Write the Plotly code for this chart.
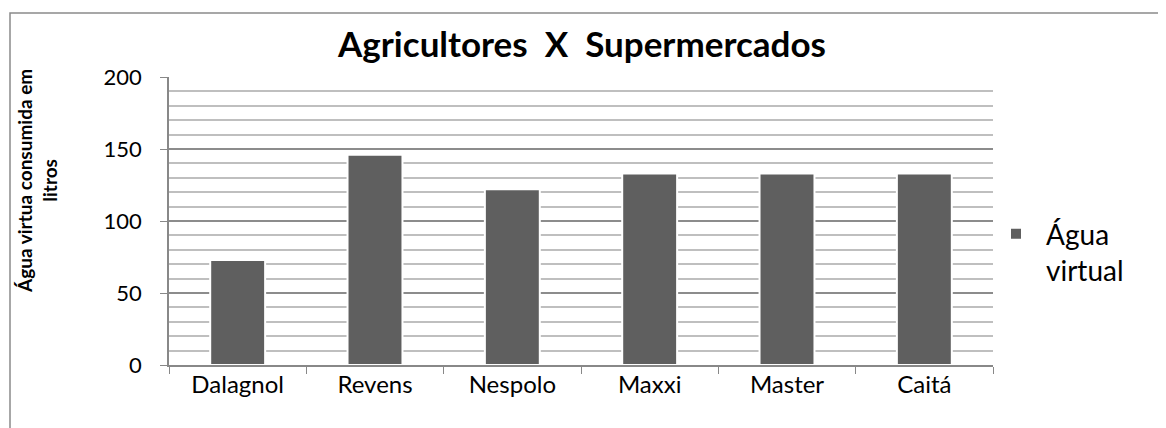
import plotly.graph_objects as go

categories = ["Dalagnol", "Revens", "Nespolo", "Maxxi", "Master", "Caitá"]
values = [73, 146, 122, 133, 133, 133]
series_name = "Água<br>virtual"
title_text = "Agricultores  X  Supermercados"
y_title = "Água virtua consumida em<br>litros"

# page body adds an 8px offset; layout coords = reference coords - 8
OFF = 8
W, H = 1166 - OFF, 428 - OFF
L, T = 169 - OFF, 77 - OFF
pw, ph = 824, 288
R = W - L - pw
B = H - T - ph

def px_x(x):
    return (x - OFF - L) / pw

def px_y(y):
    return (T + ph - (y - OFF)) / ph

fig = go.Figure()
fig.add_trace(go.Bar(
    x=categories, y=values, name=series_name,
    marker=dict(color="#5f5f5f", line=dict(color="#ffffff", width=2)),
))

fig.update_layout(
    width=W, height=H,
    margin=dict(l=L, r=R, t=T, b=B, autoexpand=False),
    paper_bgcolor="white", plot_bgcolor="white",
    font=dict(family="Lato, sans-serif", color="#000000"),
    bargap=0.6,
    title=dict(text="<b>" + title_text + "</b>", x=px_x(582), xref="paper",
               xanchor="center", y=1 - (45 - OFF) / H, yanchor="middle",
               font=dict(size=35, family="Lato, sans-serif", color="#000")),
    showlegend=True,
    legend=dict(x=px_x(986), xanchor="left", y=px_y(209), yanchor="top",
                font=dict(size=28), bgcolor="rgba(0,0,0,0)",
                itemwidth=50, valign="top"),
    xaxis=dict(
        type="category", showline=True, linecolor="#888888", linewidth=1.5,
        ticks="outside", tickson="boundaries", ticklen=7, tickcolor="#888888",
        tickfont=dict(size=24), showgrid=False, ticklabelstandoff=-3,
    ),
    yaxis=dict(
        range=[0, 200], dtick=50, showline=True, linecolor="#888888", linewidth=1.5,
        ticks="outside", ticklen=7, tickcolor="#888888", tickfont=dict(size=22),
        showgrid=True, gridcolor="#8c8c8c", gridwidth=1.5,
        minor=dict(dtick=10, showgrid=True, gridcolor="#bfbfbf", gridwidth=1.5),
        ticklabelstandoff=14,
        zeroline=False,
    ),
)

# y-axis title placed as in the reference (above the axis centre)
fig.add_annotation(text="<b>" + y_title + "</b>", textangle=-90,
                   xref="paper", yref="paper", x=px_x(37), y=px_y(181),
                   xanchor="center", yanchor="middle", showarrow=False,
                   font=dict(size=19, color="#000"))

# outer chart border
fig.add_shape(type="rect", xref="paper", yref="paper",
              x0=px_x(10), x1=px_x(1190),
              y0=px_y(450), y1=px_y(13),
              line=dict(color="#8a8a8a", width=1.5), fillcolor="rgba(0,0,0,0)",
              layer="below")

fig.write_html("out.html")
